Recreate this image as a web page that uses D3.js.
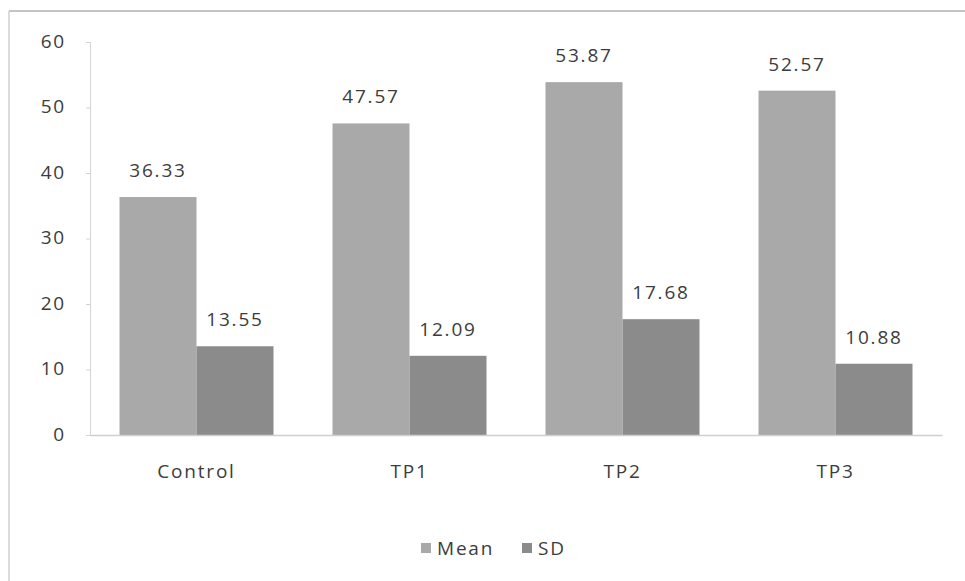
<!DOCTYPE html>
<html>
<head>
<meta charset="utf-8">
<script src="https://cdn.jsdelivr.net/npm/d3@7"></script>
<style>
  html, body { margin: 0; padding: 0; background: #fff; }
  svg text { font-family: "Open Sans", "DejaVu Sans", sans-serif; fill: #3c3c3c; letter-spacing: 1.8px; }
</style>
</head>
<body>
<svg id="chart" width="965" height="581"></svg>
<script>
const categories = ["Control", "TP1", "TP2", "TP3"];
const seriesNames = ["Mean", "SD"];
const meanValues = [36.33, 47.57, 53.87, 52.57];
const sdValues = [13.55, 12.09, 17.68, 10.88];
const yTicks = [0, 10, 20, 30, 40, 50, 60];
const seriesColors = ["#a9a9a9", "#8b8b8b"];

(function () {
const svg = d3.select("#chart");
const W = 965, H = 581;
const mLeft = 90, mRight = 942, mTop = 42, mBottom = 435;

// outer frame (scan border)
svg.append("line").attr("x1", 9).attr("x2", W).attr("y1", 11).attr("y2", 11)
  .attr("stroke", "#c4c4c4").attr("stroke-width", 2);
svg.append("line").attr("x1", 9).attr("x2", 9).attr("y1", 11).attr("y2", H)
  .attr("stroke", "#d0d0d0").attr("stroke-width", 1.5);

const x0 = d3.scaleBand().domain(categories).range([mLeft, mRight]).paddingInner(0.277).paddingOuter(0.1385);
const x1 = d3.scaleBand().domain(seriesNames).range([0, x0.bandwidth()]);
const y = d3.scaleLinear().domain([0, 60]).range([mBottom, mTop]);

const data = categories.map((c, i) => ({ cat: c, vals: [meanValues[i], sdValues[i]] }));

// y axis
const yAxis = d3.axisLeft(y).tickValues(yTicks).tickSize(4).tickPadding(20).tickFormat(d3.format("d"));
const gy = svg.append("g").attr("transform", `translate(${mLeft},0)`).call(yAxis);
gy.select(".domain").attr("stroke", "#d4d4d4");
gy.selectAll(".tick line").attr("stroke", "#d4d4d4");
gy.selectAll(".tick text").style("font-size", "19px").attr("fill", "#444").attr("dy", "0.28em");

// bars
const groups = svg.append("g").selectAll("g").data(data).join("g")
  .attr("transform", d => `translate(${x0(d.cat)},0)`);
groups.selectAll("rect").data(d => d.vals.map((v, j) => ({ v, s: seriesNames[j], j }))).join("rect")
  .attr("x", d => x1(d.s)).attr("width", x1.bandwidth())
  .attr("y", d => y(d.v)).attr("height", d => y(0) - y(d.v))
  .attr("fill", d => seriesColors[d.j]);
groups.selectAll("text.val").data(d => d.vals.map((v, j) => ({ v, s: seriesNames[j] }))).join("text")
  .attr("class", "val")
  .attr("x", d => x1(d.s) + x1.bandwidth() / 2)
  .attr("y", d => y(d.v) - 20)
  .attr("text-anchor", "middle").style("font-size", "19px")
  .text(d => d.v.toFixed(2));

// x baseline
const xAxis = d3.axisBottom(x0).tickSize(0).tickPadding(30);
const gx = svg.append("g").attr("transform", `translate(0,${mBottom})`).call(xAxis);
gx.select(".domain").attr("stroke", "#cfcfcf").attr("stroke-width", 1.5);
gx.selectAll(".tick text").style("font-size", "19px").attr("fill", "#3c3c3c");

// legend
const legend = svg.append("g").attr("transform", "translate(421,548)");
const legX = [0, 101];
seriesNames.forEach((s, i) => {
  const g = legend.append("g").attr("transform", `translate(${legX[i]},0)`);
  g.append("rect").attr("x", 0).attr("y", -5).attr("width", 10).attr("height", 10).attr("fill", seriesColors[i]);
  g.append("text").attr("x", 16).attr("y", 0).attr("dy", "0.35em").style("font-size", "19px").text(s);
});
})();
</script>
</body>
</html>
